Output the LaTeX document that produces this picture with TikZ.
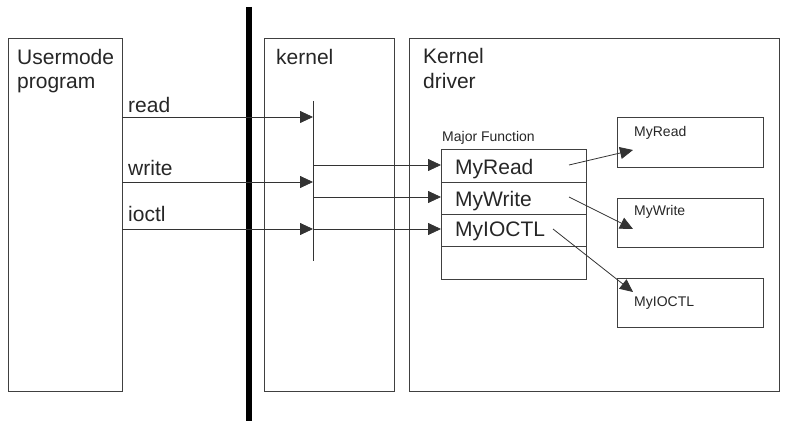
\documentclass[tikz,border=0pt]{standalone}
\usepackage{fontspec}
\setmainfont{Liberation Sans}
\usetikzlibrary{arrows.meta}
\begin{document}
\begin{tikzpicture}[x=1pt,y=-1pt,
  box/.style={draw=black!75, line width=0.9pt, rectangle, inner sep=0pt, outer sep=0pt, anchor=north west},
  big/.style={font=\fontsize{21}{24}\selectfont, inner sep=0pt, anchor=base west, text=black!85},
  small/.style={font=\fontsize{14}{16}\selectfont, inner sep=0pt, anchor=base west, text=black!85},
  conn/.style={draw=black!80, line width=0.8pt},
  arr/.style={conn, -{Triangle[length=13pt,width=12pt]}}]
\useasboundingbox (0,0) rectangle (800,427);
% main boxes
\node[box, minimum width=114pt, minimum height=353pt] (um) at (8,38) {};
\node[box, minimum width=130pt, minimum height=353pt] (kb) at (264,38) {};
\node[box, minimum width=370pt, minimum height=353pt] (kd) at (409,38) {};
% thick barrier
\coordinate (barT) at (249,7);
\coordinate (barB) at (249,421);
\draw[line width=6pt] (barT) -- (barB);
% labels
\node[big] (umL1) at (17,65) {Usermode};
\node[big] (umL2) at (17,89) {program};
\node[big] (kL) at (276,65) {kernel};
\node[big] (kdL1) at (423,64) {Kernel};
\node[big] (kdL2) at (423,89) {driver};
\node[big] (rdL) at (128,113) {read};
\node[big] (wrL) at (128,176) {write};
\node[big] (ioL) at (128,222) {ioctl};
% bus line
\coordinate (busT) at (313,101);
\coordinate (busB) at (313,261);
\draw[conn] (busT) -- (busB);
% table
\node[small] (mf) at (442,142) {Major Function};
\node[box, minimum width=145pt, minimum height=33pt] (t1) at (441,149) {};
\node[box, minimum width=145pt, minimum height=32pt] (t2) at (441,182) {};
\node[box, minimum width=145pt, minimum height=32pt] (t3) at (441,214) {};
\node[box, minimum width=145pt, minimum height=33pt] (t4) at (441,246) {};
\node[big] (t1L) at (455,175) {MyRead};
\node[big] (t2L) at (455,207) {MyWrite};
\node[big] (t3L) at (455,237) {MyIOCTL};
% right boxes
\node[box, minimum width=146pt, minimum height=50pt] (f1) at (617,117) {};
\node[box, minimum width=146pt, minimum height=49pt] (f2) at (617,198) {};
\node[box, minimum width=146pt, minimum height=49pt] (f3) at (617,278) {};
\node[small] (f1L) at (634,137) {MyRead};
\node[small] (f2L) at (634,216) {MyWrite};
\node[small] (f3L) at (634,307) {MyIOCTL};
% user -> bus
\coordinate (rdS) at (122,117); \coordinate (rdE) at (313,117);
\coordinate (wrS) at (122,182); \coordinate (wrE) at (313,182);
\coordinate (ioS) at (122,229); \coordinate (ioE) at (313,229);
\draw[arr] (rdS) -- (rdE);
\draw[arr] (wrS) -- (wrE);
\draw[arr] (ioS) -- (ioE);
% bus -> table
\coordinate (b1) at (313,165); \coordinate (t1W) at (441,165);
\coordinate (b2) at (313,197); \coordinate (t2W) at (441,197);
\coordinate (t3W) at (441,229);
\draw[arr] (b1) -- (t1W);
\draw[arr] (b2) -- (t2W);
\draw[arr] (ioE) -- (t3W);
% table -> functions
\coordinate (a1S) at (569,165); \coordinate (a1E) at (633,150);
\coordinate (a2S) at (569,197); \coordinate (a2E) at (633,229);
\coordinate (a3S) at (553,229); \coordinate (a3E) at (633,292);
\draw[arr] (a1S) -- (a1E);
\draw[arr] (a2S) -- (a2E);
\draw[arr] (a3S) -- (a3E);
\end{tikzpicture}
\end{document}
